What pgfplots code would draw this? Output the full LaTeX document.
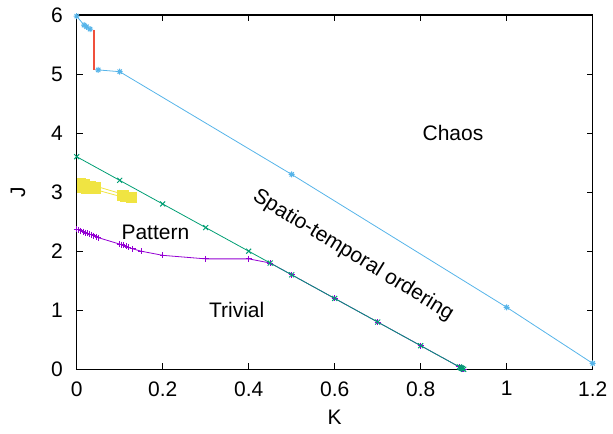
\documentclass[border=0pt]{standalone}
\usepackage{fontspec}
\setmainfont{Liberation Sans}
\usepackage{pgfplots}
\pgfplotsset{compat=1.18}

% gnuplot default line colours
\definecolor{gpPurple}{HTML}{9400D3}
\definecolor{gpGreen}{HTML}{009E73}
\definecolor{gpBlue}{HTML}{56B4E9}
\definecolor{gpYellow}{HTML}{F0E442}
\definecolor{gpRed}{RGB}{240,80,60}

% eight-armed star (plus and cross together)
\pgfdeclareplotmark{gpstar}{%
  \pgfpathmoveto{\pgfqpoint{-\pgfplotmarksize}{0pt}}%
  \pgfpathlineto{\pgfqpoint{\pgfplotmarksize}{0pt}}%
  \pgfpathmoveto{\pgfqpoint{0pt}{-\pgfplotmarksize}}%
  \pgfpathlineto{\pgfqpoint{0pt}{\pgfplotmarksize}}%
  \pgfpathmoveto{\pgfqpoint{-.7071\pgfplotmarksize}{-.7071\pgfplotmarksize}}%
  \pgfpathlineto{\pgfqpoint{.7071\pgfplotmarksize}{.7071\pgfplotmarksize}}%
  \pgfpathmoveto{\pgfqpoint{-.7071\pgfplotmarksize}{.7071\pgfplotmarksize}}%
  \pgfpathlineto{\pgfqpoint{.7071\pgfplotmarksize}{-.7071\pgfplotmarksize}}%
  \pgfusepathqstroke}

\begin{document}
\fontsize{21bp}{25bp}\selectfont
\begin{tikzpicture}[font=\fontsize{21bp}{25bp}\selectfont]
\path[use as bounding box] (-76.7bp,-64.7bp) rectangle (536.3bp,369.3bp);
\begin{axis}[
  at={(0,0)}, anchor=south west,
  scale only axis, width=516bp, height=354.3bp,
  xmin=0, xmax=1.2, ymin=0, ymax=6,
  xtick={0,0.2,0.4,0.6,0.8,1,1.2},
  ytick={0,1,2,3,4,5,6},
  /pgf/number format/assume math mode=true,
  tick align=inside, major tick length=6bp,
  major tick style={line width=0.8bp, black},
  axis line style={line width=1.1bp},
  xticklabel style={anchor=north, inner sep=0pt, yshift=-12bp},
  yticklabel style={anchor=east, inner sep=0pt, xshift=-13.7bp},
  xlabel={K}, ylabel={J},
  xlabel style={at={(axis description cs:0.5,-0.1346)}, anchor=center, inner sep=0pt},
  ylabel style={at={(axis description cs:-0.1138,0.5)}, anchor=center, inner sep=0pt},
  clip=false,
  every axis plot/.append style={line width=0.8bp, mark options={solid}},
]

% Trivial / pattern boundary
\addplot[draw=gpPurple, mark=+, mark size=3bp, mark options={draw=gpPurple, line width=1bp}] coordinates {
  (0,2.37) (0.005,2.36) (0.01,2.345) (0.015,2.33) (0.02,2.315) (0.025,2.30)
  (0.03,2.29) (0.035,2.275) (0.04,2.26) (0.045,2.245) (0.05,2.23)
  (0.1,2.12) (0.105,2.11) (0.11,2.10) (0.115,2.085) (0.12,2.065) (0.13,2.04)
  (0.15,2.00) (0.2,1.93) (0.3,1.87) (0.4,1.87) (0.45,1.80) (0.5,1.60)
  (0.6,1.20) (0.7,0.80) (0.8,0.40) (0.89,0.04) (0.893,0.03) (0.895,0.02)
  (0.897,0.01) (0.9,0.0)
};

% Pattern / spatio-temporal ordering boundary
\addplot[draw=gpGreen, mark=x, mark size=3.5bp, mark options={draw=gpGreen, line width=1bp}] coordinates {
  (0,3.6) (0.1,3.2) (0.2,2.8) (0.3,2.4) (0.4,2.0) (0.45,1.8) (0.5,1.6)
  (0.6,1.2) (0.7,0.8) (0.8,0.4) (0.89,0.04) (0.893,0.03) (0.895,0.02)
  (0.897,0.01) (0.9,0.0)
};

% Ordering / chaos boundary, upper branch
\addplot[draw=gpBlue, mark=gpstar, mark size=3bp, mark options={draw=gpBlue, line width=1bp}] coordinates {
  (0,5.98) (0.017,5.83) (0.023,5.80) (0.031,5.76)
};
% Ordering / chaos boundary, lower branch
\addplot[draw=gpBlue, mark=gpstar, mark size=3bp, mark options={draw=gpBlue, line width=1bp}] coordinates {
  (0.05,5.07) (0.1,5.04) (0.5,3.3) (1.0,1.05) (1.2,0.1)
};

% Yellow branches near K = 0
\addplot[draw=gpYellow, mark=square*, mark size=4bp, mark options={draw=gpYellow, fill=gpYellow}] coordinates {
  (0.01,3.16) (0.02,3.15) (0.035,3.11) (0.045,3.10)
  (0.105,2.97) (0.11,2.965) (0.125,2.93) (0.13,2.925)
};
\addplot[draw=gpYellow, mark=square*, mark size=4bp, mark options={draw=gpYellow, fill=gpYellow}] coordinates {
  (0.01,3.06) (0.02,3.055) (0.035,3.05) (0.045,3.04)
  (0.105,2.92) (0.11,2.915) (0.125,2.90) (0.13,2.895)
};

% Vertical jump between the two branches
\addplot[gpRed, line width=1.3bp, mark=none, solid] coordinates {
  (0.04,5.75) (0.04,5.07)
};

\node at (axis cs:0.875,4.0) {Chaos};
\node at (axis cs:0.183,2.32) {Pattern};
\node at (axis cs:0.372,1.0) {Trivial};
\node[rotate=-31.5] at (axis cs:0.643,1.93) {Spatio-temporal ordering};
\end{axis}
\end{tikzpicture}
\end{document}
